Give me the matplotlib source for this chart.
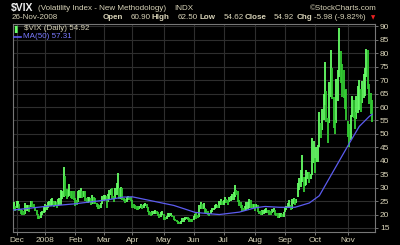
import numpy as np
import pandas as pd
import matplotlib
matplotlib.use("Agg")
import matplotlib.pyplot as plt

plt.rcParams["font.family"] = ["Liberation Sans", "DejaVu Sans"]

# trading days 29-Nov-2007 .. 26-Nov-2008
holidays = ["2007-12-25", "2008-01-01", "2008-01-21", "2008-02-18", "2008-03-21",
            "2008-05-26", "2008-07-04", "2008-09-01"]

# daily high / low of $VIX, month by month
highs = [
    24.5, 23.3,
    24.9, 24.9, 23.9, 21.9, 21.6, 21.5, 24.2, 23.4, 23.6, 23.4, 25.2, 25.0, 24.0, 22.9, 21.8, 20.3, 19.5, 20.8, 21.5, 22.8,
    23.9, 23.5, 24.8, 25.0, 25.9, 26.2, 25.1, 25.0, 24.5, 25.6, 26.0, 29.0, 28.9, 37.6, 34.5, 29.5, 29.3, 31.5, 28.8, 28.9, 28.6,
    26.2, 25.3, 28.6, 29.2, 29.8, 28.6, 28.9, 28.6, 26.0, 26.6, 26.5, 26.3, 27.1, 26.6, 26.3, 24.3, 23.8, 23.7, 24.2, 26.8,
    27.4, 27.3, 26.8, 27.6, 29.0, 29.6, 29.8, 26.8, 30.0, 31.8, 35.6, 30.0, 30.4, 29.9, 26.1, 25.8, 26.4, 26.8, 26.7, 26.4,
    25.3, 23.9, 23.6, 23.3, 23.0, 23.0, 23.9, 23.6, 23.9, 24.4, 23.8, 22.7, 21.4, 21.0, 21.3, 21.2, 21.6, 21.3, 20.8, 20.1, 20.8, 21.2,
    20.3, 18.9, 19.3, 20.7, 20.6, 20.5, 20.0, 19.3, 18.4, 18.0, 17.6, 17.2, 17.6, 18.7, 18.8, 18.9, 19.1, 18.9, 18.6, 18.3, 18.2,
    19.4, 20.3, 20.4, 19.7, 23.6, 24.5, 23.9, 24.4, 22.6, 21.9, 21.2, 20.6, 21.6, 22.3, 22.6, 23.4, 23.8, 23.5, 25.2, 25.6, 25.2,
    25.3, 26.5, 25.8, 25.4, 26.5, 27.0, 27.6, 28.5, 31.0, 29.2, 28.9, 25.4, 24.6, 23.4, 22.6, 23.3, 24.5, 24.7, 25.9, 25.5, 23.8, 23.8,
    23.8, 24.0, 23.6, 21.5, 21.2, 21.6, 21.6, 21.9, 22.3, 21.8, 21.6, 21.2, 22.2, 22.3, 21.6, 20.6, 20.5, 20.7, 20.6, 20.2, 20.9,
    22.9, 23.2, 24.3, 25.3, 23.5, 25.7, 26.3, 25.6, 25.8, 31.7, 33.5, 36.5, 42.2, 33.9, 34.0, 36.4, 36.0, 35.7, 35.0, 48.4, 47.2,
    40.9, 45.3, 45.7, 58.2, 53.9, 59.1, 64.9, 76.9, 65.8, 55.8, 69.4, 81.2, 74.6, 63.8, 55.3, 70.3, 73.9, 89.5, 81.0, 76.2, 73.9, 66.5, 66.8,
    54.9, 53.7, 56.9, 64.2, 62.6, 58.1, 64.0, 67.7, 69.9, 66.8, 69.6, 72.3, 74.5, 81.5, 81.2, 68.5, 65.2, 62.5,
]
lows = [
    22.0, 21.5,
    22.6, 22.8, 21.4, 20.2, 19.8, 19.9, 20.1, 21.2, 21.5, 21.1, 22.8, 22.9, 22.4, 21.2, 19.8, 18.2, 18.3, 18.7, 19.9, 20.5,
    20.9, 21.8, 22.5, 23.1, 23.0, 23.5, 22.9, 23.3, 22.4, 23.2, 23.7, 23.7, 25.8, 26.5, 26.9, 25.9, 26.6, 26.8, 26.3, 25.7, 25.3,
    23.1, 23.6, 24.8, 26.0, 26.2, 26.3, 26.6, 25.2, 24.5, 24.3, 24.8, 23.7, 24.1, 24.1, 23.8, 22.7, 22.2, 21.9, 22.5, 23.8,
    25.1, 25.3, 22.4, 24.8, 25.9, 27.1, 25.9, 24.5, 25.8, 27.3, 29.4, 25.8, 25.7, 25.4, 24.9, 24.3, 24.7, 25.3, 25.3, 25.1,
    22.5, 22.4, 22.0, 21.8, 21.6, 21.9, 22.3, 22.1, 22.6, 23.2, 22.4, 20.9, 19.9, 19.6, 19.8, 20.2, 20.2, 20.1, 19.4, 18.6, 19.1, 19.8,
    18.0, 17.8, 18.2, 18.9, 19.1, 19.3, 18.9, 18.1, 17.6, 17.3, 16.5, 16.3, 16.6, 17.2, 17.4, 17.8, 18.2, 18.0, 17.3, 17.4, 17.3,
    17.9, 18.9, 18.5, 18.6, 19.1, 22.2, 22.2, 22.1, 20.7, 20.6, 19.8, 19.6, 20.2, 21.0, 21.6, 21.9, 22.6, 22.3, 22.6, 23.5, 23.5,
    23.6, 24.2, 24.3, 23.5, 24.7, 25.2, 25.4, 25.4, 26.6, 27.2, 24.8, 23.3, 22.4, 21.3, 21.5, 21.3, 21.8, 22.2, 22.3, 22.6, 22.4, 22.4,
    21.5, 22.4, 20.9, 20.1, 19.8, 19.8, 20.1, 20.5, 20.6, 20.4, 19.8, 20.0, 20.5, 20.8, 19.9, 19.5, 18.8, 18.8, 19.2, 19.0, 19.2,
    21.0, 21.7, 22.5, 22.4, 21.8, 22.2, 23.8, 23.6, 24.2, 26.4, 29.2, 30.2, 32.2, 28.5, 30.7, 31.1, 33.2, 31.8, 33.1, 34.6, 39.3,
    35.5, 39.6, 39.5, 45.1, 48.6, 51.6, 55.0, 60.7, 54.3, 46.8, 54.1, 63.6, 62.9, 52.3, 49.8, 54.0, 62.3, 71.2, 69.0, 63.9, 63.3, 59.3, 55.0,
    48.9, 45.0, 47.7, 56.4, 56.0, 52.0, 55.4, 57.9, 59.0, 58.2, 61.4, 63.4, 64.0, 71.0, 66.6, 61.3, 57.5, 54.6,
]

# MA(50) read at a few dates
ma_dates = ["2007-11-29", "2008-01-02", "2008-02-01", "2008-03-06", "2008-03-24", "2008-04-01",
            "2008-04-14", "2008-05-12", "2008-05-21", "2008-06-03", "2008-06-17", "2008-06-26",
            "2008-07-17", "2008-08-01", "2008-08-12", "2008-08-26", "2008-09-11", "2008-09-25",
            "2008-10-06", "2008-10-15", "2008-10-24", "2008-11-04", "2008-11-13", "2008-11-24", "2008-11-26"]
ma_vals = [21.7, 23.0, 24.0, 25.5, 26.5, 26.6,
           25.6, 23.4, 22.2, 20.8, 20.3, 20.0,
           20.9, 22.5, 23.0, 22.7, 22.7, 24.3,
           27.0, 33.5, 40.0, 46.5, 52.8, 56.5, 57.3]

month_labels = ["Dec", "2008", "Feb", "Mar", "Apr", "May", "Jun", "Jul", "Aug", "Sep", "Oct", "Nov"]
yticks = list(range(15, 95, 5))

days = pd.bdate_range("2007-11-29", "2008-11-26")
days = days[~days.isin(pd.to_datetime(holidays))]
idx = np.arange(len(days))
hi = np.array(highs)
lo = np.array(lows)
mid = (hi + lo) / 2

W, H = 400, 245
fig = plt.figure(figsize=(W / 100, H / 100), dpi=100, facecolor="black")
ax = fig.add_axes([13 / W, 1 - 232 / H, 362 / W, 208 / H], facecolor="black")

txt = "#d8d3b8"
grid = "#2e2e2e"

up = np.r_[True, mid[1:] >= mid[:-1]]
ax.vlines(idx[up], lo[up], hi[up], color="#66ff66", lw=1.3, zorder=3)
ax.vlines(idx[~up], lo[~up], hi[~up], color="#33cc33", lw=1.3, zorder=3)

ma_idx = [days.get_loc(pd.Timestamp(d)) for d in ma_dates]
ax.plot(ma_idx, ma_vals, color="#5c5cf0", lw=0.9, zorder=4)

# month gridlines / labels
starts = [i for i in range(1, len(days)) if days[i].month != days[i - 1].month]
ax.set_xticks(starts)
ax.set_xticklabels(month_labels)
ax.set_xlim(-0.5, 253)
ax.set_ylim(13.5, 90.9)
ax.set_yticks(yticks)
ax.yaxis.tick_right()
ax.grid(True, color=grid, lw=0.8, zorder=0)
ax.tick_params(axis="both", colors="#888888", labelcolor=txt, labelsize=6,
               length=2, width=0.6, pad=1.5)
for s in ax.spines.values():
    s.set_color("#777777")
    s.set_linewidth(0.8)


def px(x, y):
    return x / W, 1 - y / H


fs = 5.8
# header
fig.text(*px(11, 8), "$VIX", color="#eeeeee", fontsize=7.5, fontweight="bold", va="center")
fig.text(*px(38, 8), "(Volatility Index - New Methodology)", color=txt, fontsize=fs, va="center")
fig.text(*px(174, 8), "INDX", color=txt, fontsize=fs, va="center")
fig.text(*px(377, 8), "\u00a9StockCharts.com", color=txt, fontsize=fs, va="center", ha="right")
fig.text(*px(12, 17.5), "26-Nov-2008", color=txt, fontsize=fs, va="center")
parts = [(103, "Open", True), (131, "60.90", False), (152, "High", True), (178, "62.50", False),
         (199, "Low", True), (224, "54.62", False), (245, "Close", True), (274, "54.92", False),
         (297, "Chg", True), (314, "-5.98 (-9.82%)", False)]
for x, s, b in parts:
    fig.text(*px(x, 17.5), s, color=txt, fontsize=fs, va="center",
             fontweight="bold" if b else "normal")
fig.text(*px(373, 18), "\u25bc", color="#ee2222", fontsize=4, va="center", ha="center",
         family="DejaVu Sans")

# legend
fig.text(*px(14, 29), "\u258c", color="#66ff66", fontsize=5, va="center", family="DejaVu Sans")
fig.text(*px(24, 29), "$VIX (Daily) 54.92", color=txt, fontsize=fs, va="center")
fig.lines.append(plt.Line2D([14 / W, 21 / W], [1 - 37 / H, 1 - 37 / H], color="#5c5cf0",
                            lw=1.2, transform=fig.transFigure))
fig.text(*px(23, 37), "MA(50) 57.31", color="#7a7aff", fontsize=fs, va="center")

fig.savefig("out.png", dpi=100, facecolor="black")
